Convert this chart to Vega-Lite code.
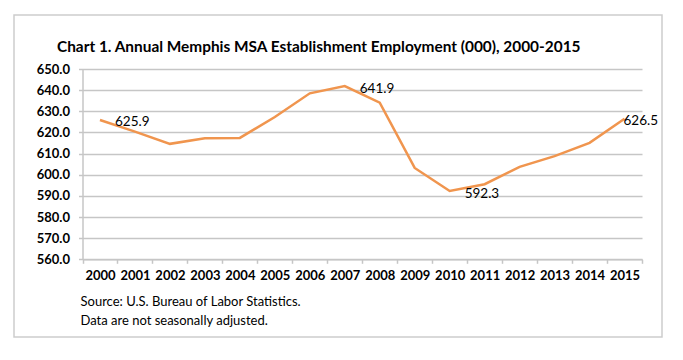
{
  "$schema": "https://vega.github.io/schema/vega-lite/v6.json",
  "width": 648,
  "height": 322,
  "autosize": {"type": "none"},
  "padding": {"left": 14, "top": 15, "right": 21, "bottom": 23},
  "background": "white",
  "title": {
    "text": "Chart 1. Annual Memphis MSA Establishment Employment (000), 2000-2015",
    "anchor": "start",
    "frame": "group",
    "orient": "top",
    "offset": -47,
    "baseline": "middle",
    "dx": 43,
    "font": "Lato",
    "fontSize": 15.4,
    "fontWeight": "bold",
    "color": "#000000"
  },
  "data": {
    "values": [
      {"year": "2000", "emp": 625.9},
      {"year": "2001", "emp": 620.4},
      {"year": "2002", "emp": 614.6},
      {"year": "2003", "emp": 617.3},
      {"year": "2004", "emp": 617.4},
      {"year": "2005", "emp": 627.3},
      {"year": "2006", "emp": 638.5},
      {"year": "2007", "emp": 641.9},
      {"year": "2008", "emp": 634.1},
      {"year": "2009", "emp": 603.2},
      {"year": "2010", "emp": 592.3},
      {"year": "2011", "emp": 595.5},
      {"year": "2012", "emp": 603.7},
      {"year": "2013", "emp": 608.8},
      {"year": "2014", "emp": 615.1},
      {"year": "2015", "emp": 626.5}
    ]
  },
  "encoding": {
    "x": {
      "field": "year",
      "type": "ordinal",
      "sort": "ascending",
      "scale": {"type": "band", "range": [68.5, 628], "paddingInner": 0, "paddingOuter": 0},
      "axis": {
        "orient": "bottom",
        "offset": -77.7,
        "labelAngle": 0,
        "tickBand": "extent",
        "tickSize": 4,
        "labelPadding": 6,
        "grid": false,
        "title": ["Source: U.S. Bureau of Labor Statistics.", "Data are not seasonally adjusted."],
        "titleFont": "Lato",
        "titleFontSize": 13,
        "titleFontWeight": "normal",
        "titleColor": "#000000",
        "titleAlign": "left",
        "titleAnchor": null,
        "titleBaseline": "alphabetic",
        "titleLineHeight": 19,
        "titleX": 66,
        "titleY": 46
      }
    },
    "y": {
      "field": "emp",
      "type": "quantitative",
      "scale": {"domain": [560, 650], "range": [244.3, 54], "nice": false, "zero": false},
      "axis": {
        "orient": "left",
        "offset": -68.5,
        "values": [560, 570, 580, 590, 600, 610, 620, 630, 640, 650],
        "format": ".1f",
        "tickSize": 4,
        "labelPadding": 9,
        "grid": true,
        "title": null
      }
    }
  },
  "layer": [
    {
      "mark": {"type": "line", "color": "#F0954E", "strokeWidth": 2.5}
    },
    {
      "transform": [{"filter": "datum.year == '2000' || datum.year == '2007' || datum.year == '2010'"}],
      "mark": {"type": "text", "align": "left", "baseline": "middle", "dx": 15, "dy": 2.5, "font": "Lato", "fontSize": 13.5, "color": "#000000"},
      "encoding": {"text": {"field": "emp", "type": "quantitative", "format": ".1f"}}
    },
    {
      "transform": [{"filter": "datum.year == '2015'"}],
      "mark": {"type": "text", "align": "left", "baseline": "middle", "dx": -1, "dy": 2.5, "font": "Lato", "fontSize": 13.5, "color": "#000000"},
      "encoding": {"text": {"field": "emp", "type": "quantitative", "format": ".1f"}}
    }
  ],
  "config": {
    "view": {"stroke": "#CDCDCD", "strokeWidth": 1.5},
    "axis": {
      "domainColor": "#C6C6C6",
      "domainWidth": 1.5,
      "tickColor": "#C6C6C6",
      "tickWidth": 1.5,
      "gridColor": "#C6C6C6",
      "gridWidth": 1.5,
      "labelFont": "Lato",
      "labelFontSize": 13,
      "labelFontWeight": "bold",
      "labelColor": "#000000"
    }
  }
}
